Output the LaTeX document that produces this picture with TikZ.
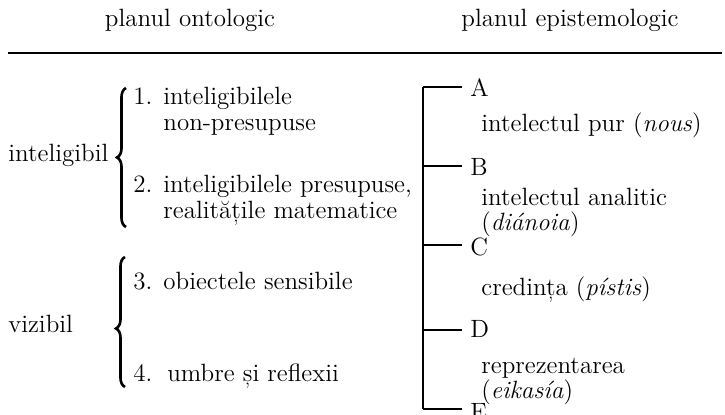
\documentclass[tikz,border=0pt]{standalone}
\usepackage{fontspec}
\usepackage{tikz}
\usetikzlibrary{decorations.pathreplacing}

\begin{document}
\begin{tikzpicture}[
    x=0.5pt, y=-0.5pt,
    every node/.style={font=\fontsize{12.5}{15}\selectfont, inner sep=0pt},
    txt/.style={anchor=base west},
    head/.style={anchor=base},
    lett/.style={anchor=base west, inner xsep=4pt},
    curly/.style={decorate, decoration={brace, amplitude=4.5pt}, line width=1.3pt},
    rule/.style={line width=0.6pt},
    spine/.style={line width=0.7pt},
]
\useasboundingbox (0,0) rectangle (725,415);

% headings
\node[head] (onto) at (190,27) {planul ontologic};
\node[head] (epis) at (570,27) {planul epistemologic};
\coordinate (rl) at (8,53);
\coordinate (rr) at (722,53);
\draw[rule] (rl) -- (rr);

% ontological side
\node[txt] (intel) at (8,162) {inteligibil};
\node[txt] (viz) at (8,333) {vizibil};

\coordinate (b1bot) at (126,227);
\coordinate (b1top) at (126,88);
\coordinate (b2bot) at (125,387);
\coordinate (b2top) at (125,257);
\draw[curly] (b1bot) -- (b1top);
\draw[curly, decoration={aspect=0.45}] (b2bot) -- (b2top);

\node[txt] (n1) at (133,105) {1.};
\node[txt] (o1a) at (163,105) {inteligibilele};
\node[txt] (o1b) at (163,131) {non-presupuse};
\node[txt] (n2) at (133,193) {2.};
\node[txt] (o2a) at (163,193) {inteligibilele presupuse,};
\node[txt] (o2b) at (163,219) {realitățile matematice};
\node[txt] (n3) at (133,290) {3.};
\node[txt] (o3) at (163,290) {obiectele sensibile};
\node[txt] (n4) at (133,382) {4.};
\node[txt] (o4) at (167,382) {umbre și reflexii};

% epistemological side
\coordinate (sA) at (423,87);
\coordinate (sB) at (423,166);
\coordinate (sC) at (423,245);
\coordinate (sD) at (423,330);
\coordinate (sE) at (423,409);

\node[lett] (A) at (462,97) {A};
\node[lett] (B) at (462,176) {B};
\node[lett] (C) at (462,256) {C};
\node[lett] (D) at (462,338) {D};
\node[lett] (E) at (462,421) {E};

\draw[spine] (sA) -- (sE);
\foreach \s/\l in {sA/A, sB/B, sC/C, sD/D, sE/E}
    \draw[spine] (\s) -- (\s -| \l.west);

\node[txt] (e1) at (481,132) {intelectul pur (\textit{nous})};
\node[txt] (e2a) at (481,206) {intelectul analitic};
\node[txt] (e2b) at (481,231) {(\textit{diánoia})};
\node[txt] (e3) at (481,296) {credința (\textit{pístis})};
\node[txt] (e4a) at (481,374) {reprezentarea};
\node[txt] (e4b) at (481,399) {(\textit{eikasía})};

\end{tikzpicture}
\end{document}
